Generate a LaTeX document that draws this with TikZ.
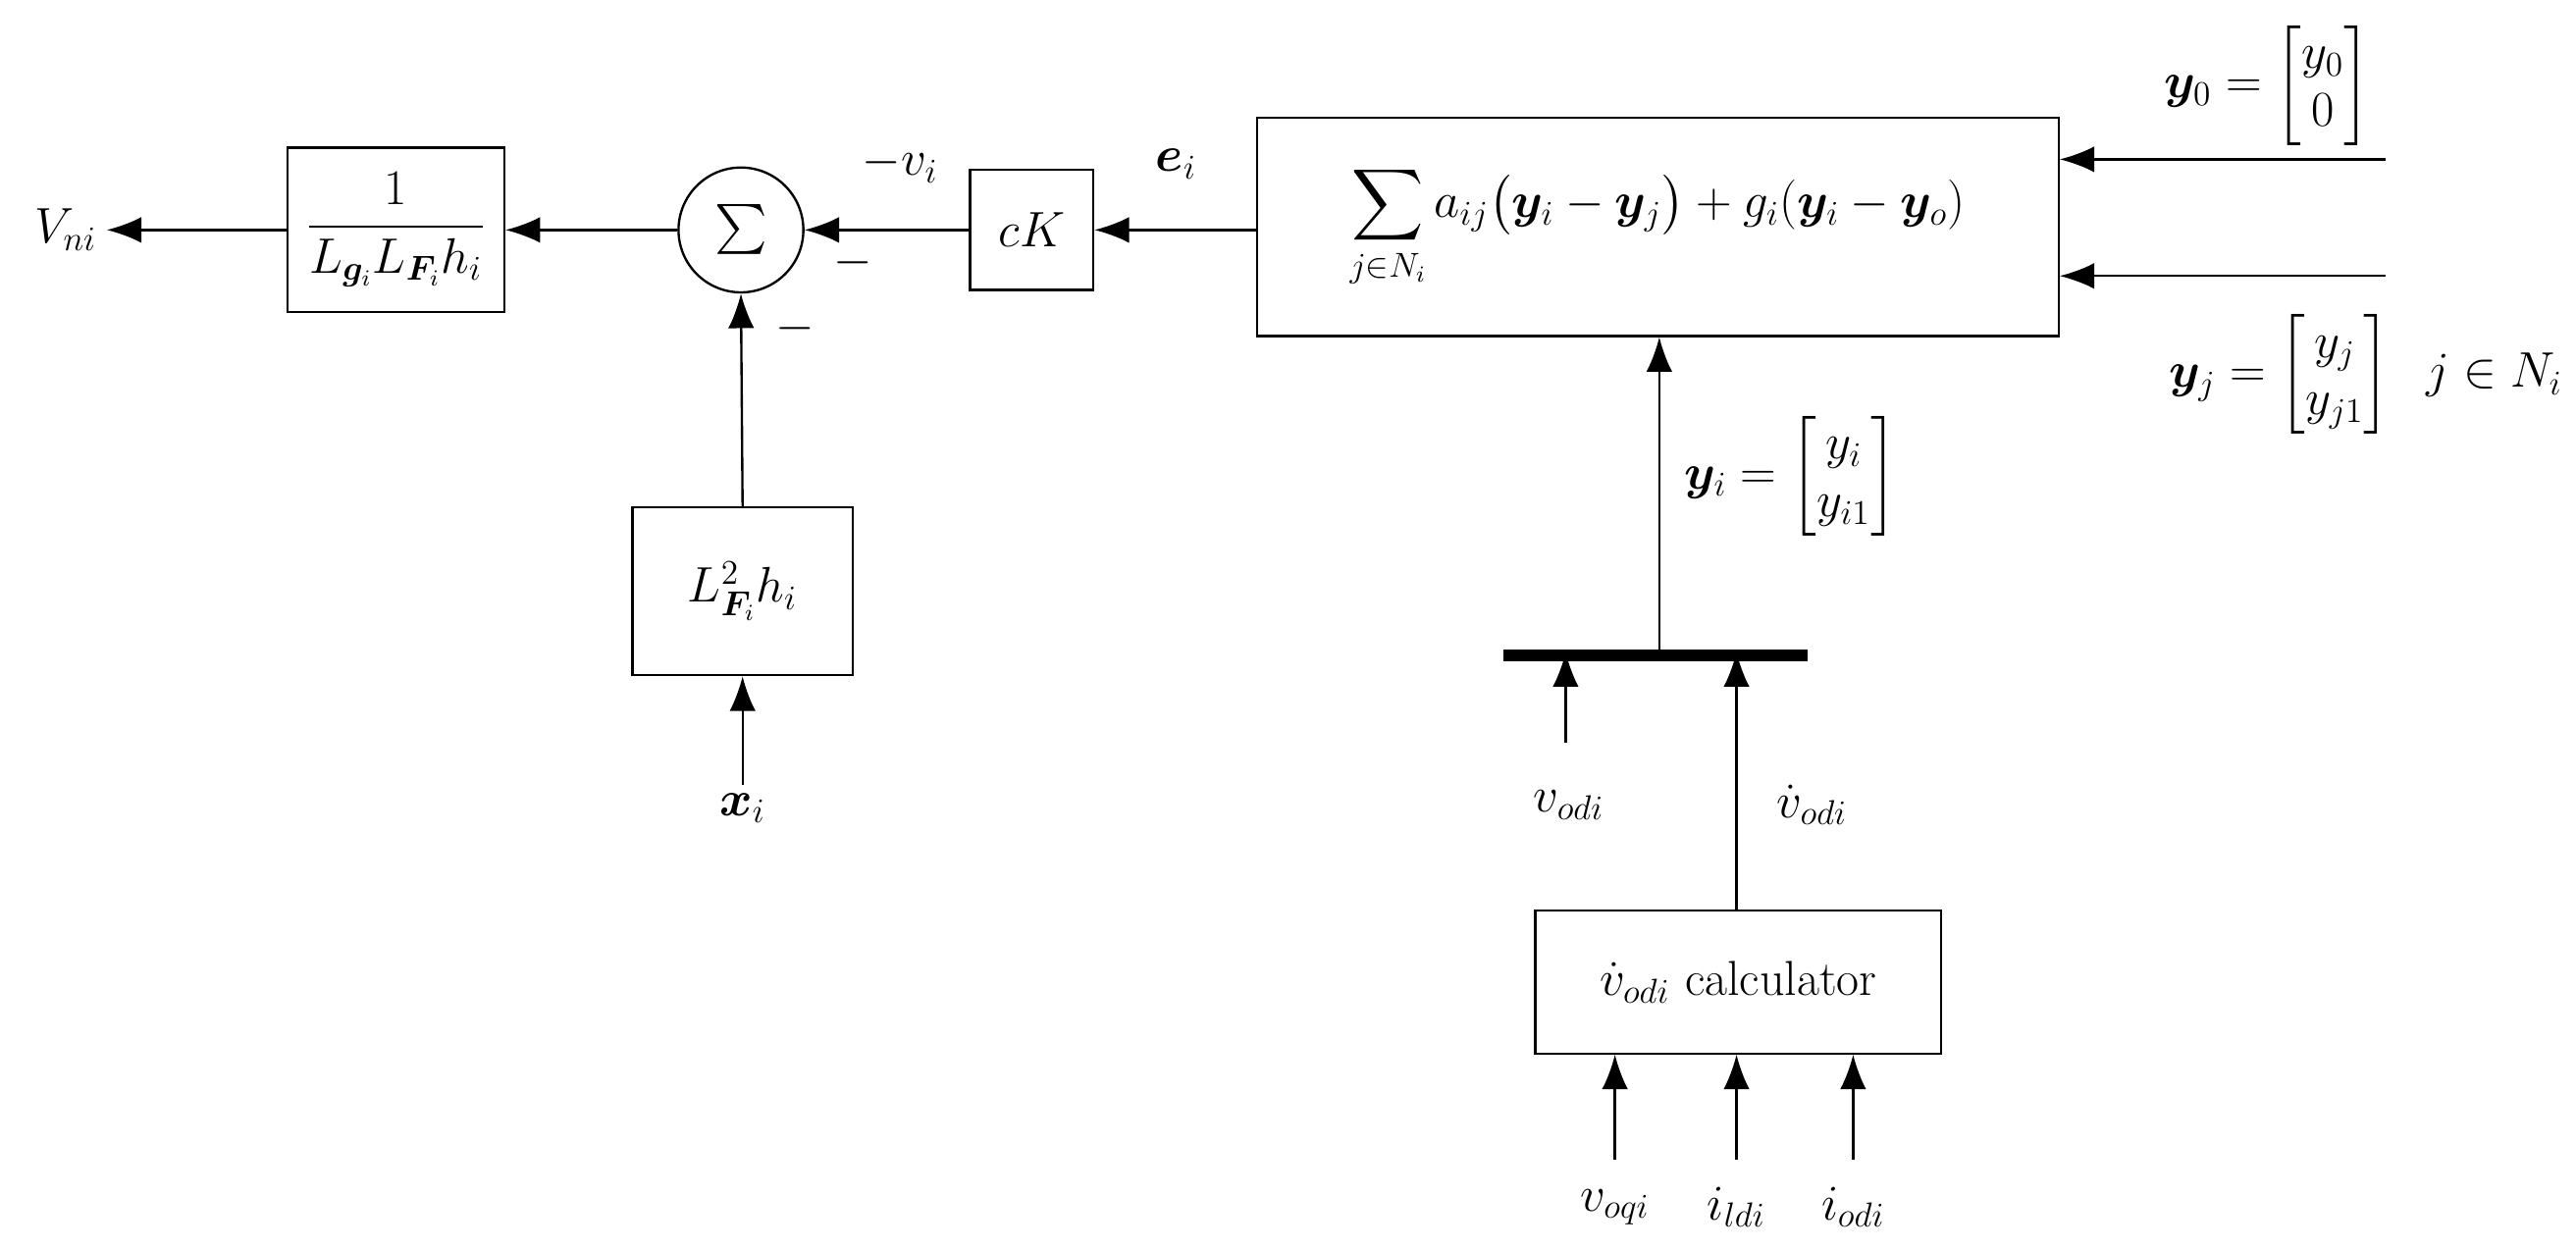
\documentclass[tikz,border=0pt]{standalone}
\usepackage{amsmath,bm}
\usetikzlibrary{arrows.meta}
\begin{document}
\begin{tikzpicture}[x=0.02cm,y=-0.02cm,font=\fontsize{17}{20}\selectfont,
  arr/.style={line width=0.8pt,-{Latex[length=12pt,width=9pt]}}]
\useasboundingbox (0,0) rectangle (1568,760);
\node[draw,line width=0.8pt,minimum width=132*0.02cm,minimum height=100*0.02cm] (g) at (241,140) {$\dfrac{1}{L_{\bm g_i}L_{\bm F_i}h_i}$};
\node[draw,circle,line width=0.8pt,minimum size=76*0.02cm,inner sep=0pt] (s) at (451,140) {$\sum$};
\node[draw,line width=0.8pt,minimum width=75*0.02cm,minimum height=73*0.02cm] (ck) at (628,140) {$cK$};
\node[draw,line width=0.8pt,minimum width=488*0.02cm,minimum height=133*0.02cm] (big) at (1009,138) {$\displaystyle\sum_{j\in N_i} a_{ij}\big(\bm y_i-\bm y_j\big)+g_i(\bm y_i-\bm y_o)$};
\node[draw,line width=0.8pt,minimum width=134*0.02cm,minimum height=102*0.02cm] (l2) at (452,360) {$L^2_{\bm F_i}h_i$};
\node[draw,line width=0.8pt,minimum width=247*0.02cm,minimum height=87*0.02cm] (calc) at (1058,598) {$\dot v_{odi}$ calculator};
\node (V) at (40,140) {$V_{ni}$};
\coordinate (Ve) at (65,140);
\node (xi) at (452,492) {$\bm x_i$};
\coordinate (xs) at (452,478);
\draw[arr] (g.west) -- (Ve);
\draw[arr] (s.west) -- (g.east);
\draw[arr] (ck.west) -- (s.east);
\draw[arr] (big.west |- ck.west) -- (ck.east);
\draw[arr] (l2.north) -- (s.south);
\draw[arr] (xs) -- (l2.south);
\node at (548,100) {$-v_i$};
\node at (716,100) {$\bm e_i$};
\node at (519,160) {$-$};
\node at (484,200) {$-$};
\coordinate (r1) at (1452,97); \coordinate (r2) at (1452,168);
\draw[arr] (r1) -- (r1 -| big.east);
\draw[arr] (r2) -- (r2 -| big.east);
\node at (1380,52) {$\bm y_0=\begin{bmatrix} y_0\\ 0\end{bmatrix}$};
\node at (1440,228) {$\bm y_j=\begin{bmatrix} y_j\\ y_{j1}\end{bmatrix}\;\; j\in N_i$};
\coordinate (b1) at (915,399); \coordinate (b2) at (1100,399); \coordinate (bm) at (1010,399);
\draw[line width=4pt] (b1) -- (b2);
\draw[arr] (bm) -- (bm |- big.south);
\node at (1090,290) {$\bm y_i=\begin{bmatrix} y_i\\ y_{i1}\end{bmatrix}$};
\coordinate (vs) at (953,452);
\draw[arr] (vs) -- (953,397);
\node at (955,490) {$v_{odi}$};
\draw[arr] (calc.north -| 1057,0) -- (1057,397);
\node at (1103,490) {$\dot v_{odi}$};
\foreach \x/\t in {983/v_{oqi},1057/i_{ldi},1128/i_{odi}}{
  \coordinate (c\x) at (\x,706);
  \draw[arr] (c\x) -- (\x,642);
  \node at (\x,735) {$\t$};
}
\end{tikzpicture}
\end{document}
